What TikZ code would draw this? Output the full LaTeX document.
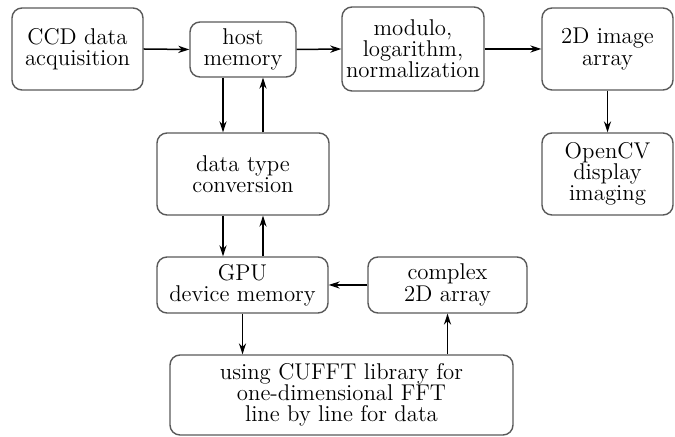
\documentclass[tikz,border=0pt]{standalone}
\usetikzlibrary{arrows.meta}
\begin{document}
\begin{tikzpicture}[x=0.5pt,y=-0.5pt,
        blk/.style={draw=black!65,line width=0.7pt,rounded corners=5pt,
            align=center,inner sep=0pt,font=\fontsize{11.4}{10.6}\selectfont},
        flow/.style={-{Stealth[length=5.5pt,width=3.6pt]},line width=0.75pt}]
    \useasboundingbox (0,0) rectangle (675,437);
    %% Top row
    \node[blk,minimum width=65.5pt,minimum height=41pt]
        (ccd) at (77.5,49) {CCD data\\acquisition};
    \node[blk,minimum width=53pt,minimum height=27.5pt]
        (host) at (243,49.5) {host\\memory};
    \node[blk,minimum width=71pt,minimum height=42pt]
        (norm) at (413,49) {modulo,\\logarithm,\\normalization};
    \node[blk,minimum width=65.5pt,minimum height=41pt]
        (image) at (607.5,49) {2D image\\array};
    %% Middle row
    \node[blk,minimum width=86pt,minimum height=41pt]
        (conv) at (243,174) {data type\\conversion};
    \node[blk,minimum width=65.5pt,minimum height=41pt]
        (opencv) at (607.5,174) {OpenCV\\display\\imaging};
    %% GPU side
    \node[blk,minimum width=85.5pt,minimum height=28pt]
        (gpu) at (242.5,285) {GPU\\device memory};
    \node[blk,minimum width=79.5pt,minimum height=28pt]
        (cplx) at (447.5,285) {complex\\2D array};
    \node[blk,minimum width=171.5pt,minimum height=40pt]
        (fft) at (341.5,395) {using CUFFT library for\\one-dimensional FFT\\line by line for data};
    %% Arrows
    \draw[flow] (ccd.east) -- (host.west);
    \draw[flow] (host.east) -- (norm.west);
    \draw[flow] (norm.east) -- (image.west);
    \draw[flow] (image) -- (opencv);
    \draw[flow] ([xshift=-10pt]host.south) -- ([xshift=-10pt]conv.north);
    \draw[flow] ([xshift=10pt]conv.north) -- ([xshift=10pt]host.south);
    \draw[flow] ([xshift=-10pt]conv.south) -- ([xshift=-10pt]conv.south |- gpu.north);
    \draw[flow] ([xshift=10pt]conv.south |- gpu.north) -- ([xshift=10pt]conv.south);
    \draw[flow] (cplx.west) -- (gpu.east);
    \draw[flow] (gpu.south) -- (gpu.south |- fft.north);
    \draw[flow] (cplx.south |- fft.north) -- (cplx.south);
\end{tikzpicture}
\end{document}
